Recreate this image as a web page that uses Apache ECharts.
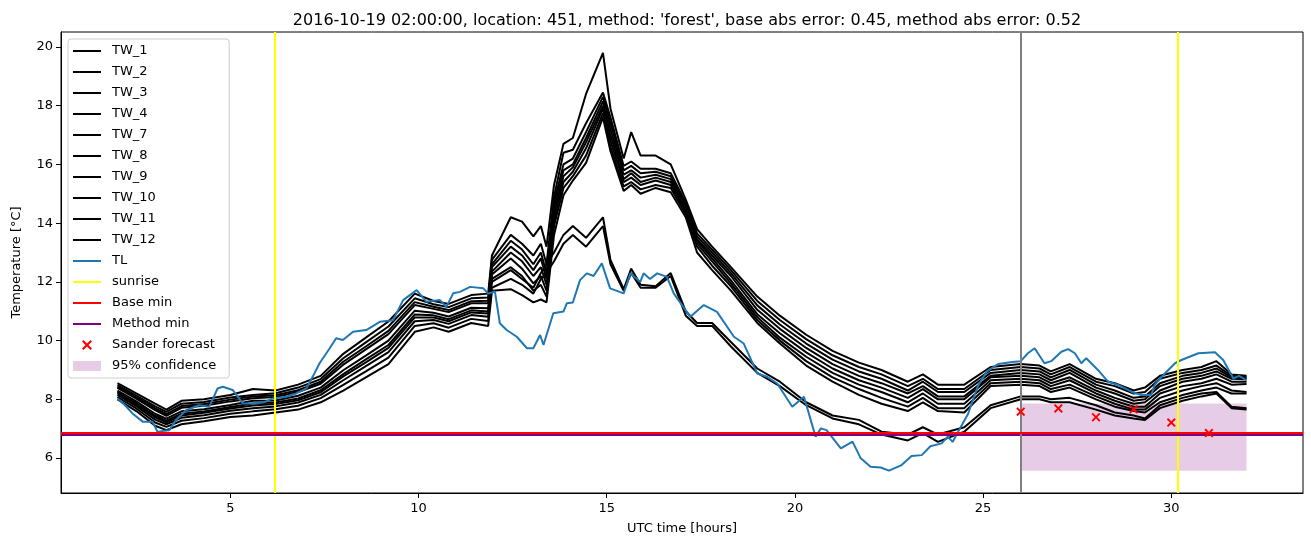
<!DOCTYPE html>
<html>
<head>
<meta charset="utf-8">
<script src="https://cdn.jsdelivr.net/npm/echarts@6/dist/echarts.min.js"></script>
<style>
html,body{margin:0;padding:0;background:#fff;}
#chart{width:1311px;height:547px;}
</style>
</head>
<body>
<div id="chart"></div>
<script>
// ---- data ----
const hours = [2, 2.5, 3, 3.3, 3.7, 4.3, 5.0, 5.6, 6.2, 6.8, 7.4, 8.0, 8.6, 9.2, 9.9, 10.4, 10.8, 11.4, 11.85,
  11.95, 12.45, 12.75, 13.05, 13.25, 13.4,
  13.6, 13.85, 14.1, 14.45, 14.9, 15.1, 15.45, 15.65, 15.9, 16.3, 16.7, 17.1, 17.4, 17.8, 18.3, 19.0, 19.6, 20.3, 21.0, 21.7,
  22.3, 23.0, 23.4, 23.8, 24.5, 25.2, 26.0, 26.5, 26.8, 27.3, 28.0, 28.5, 29.0, 29.3, 29.7, 30.3, 30.8, 31.2, 31.6, 32.0];

const TW_1 = [8.55, 8.2, 7.85, 7.65, 7.95, 8.0, 8.15, 8.35, 8.3, 8.5, 8.8, 9.55, 10.1, 10.65, 11.6, 11.35, 11.25, 11.55, 11.6,
  12.9, 14.2, 14.05, 13.55, 13.9, 13.2,
  15.3, 16.7, 16.9, 18.4, 19.8, 17.9, 16.2, 17.1, 16.3, 16.3, 16.0, 14.8, 13.8, 13.2, 12.5, 11.5, 10.85, 10.2, 9.65, 9.25,
  9.0, 8.6, 8.85, 8.5, 8.5, 9.1, 9.2, 9.15, 8.95, 9.2, 8.7, 8.55, 8.3, 8.4, 8.8, 9.0, 9.1, 9.3, 8.85, 8.8];
const TW_2 = [8.48, 8.13, 7.76, 7.57, 7.85, 7.91, 8.06, 8.15, 8.21, 8.4, 8.69, 9.4, 9.94, 10.48, 11.44, 11.24, 11.14, 11.44, 11.47,
  12.75, 13.6, 13.3, 12.9, 13.3, 12.6,
  14.9, 16.4, 16.5, 17.4, 18.45, 17.6, 15.95, 16.1, 15.85, 15.85, 15.7, 14.7, 13.65, 13.1, 12.4, 11.35, 10.7, 10.05, 9.5, 9.1,
  8.85, 8.45, 8.7, 8.35, 8.35, 9.0, 9.1, 9.05, 8.85, 9.1, 8.6, 8.45, 8.2, 8.25, 8.7, 8.9, 9.0, 9.15, 8.8, 8.77];
const TW_3 = [8.43, 8.07, 7.69, 7.5, 7.77, 7.84, 7.99, 8.1, 8.14, 8.31, 8.6, 9.28, 9.8, 10.33, 11.31, 11.15, 11.04, 11.34, 11.36,
  12.6, 13.4, 13.1, 12.6, 13.0, 12.3,
  14.7, 16.0, 16.2, 17.1, 18.3, 17.4, 15.8, 15.95, 15.7, 15.75, 15.6, 14.6, 13.55, 13.0, 12.3, 11.2, 10.55, 9.9, 9.35, 8.95,
  8.7, 8.3, 8.6, 8.25, 8.25, 8.9, 9.0, 8.95, 8.75, 9.0, 8.5, 8.3, 8.05, 8.1, 8.55, 8.8, 8.9, 9.05, 8.75, 8.72];
const TW_4 = [8.39, 8.02, 7.63, 7.44, 7.71, 7.78, 7.93, 8.04, 8.08, 8.25, 8.53, 9.18, 9.7, 10.22, 11.21, 11.08, 10.97, 11.27, 11.27,
  12.5, 13.2, 12.9, 12.4, 12.8, 12.1,
  14.5, 15.8, 16.0, 16.9, 18.15, 17.2, 15.65, 15.8, 15.55, 15.65, 15.5, 14.5, 13.45, 12.9, 12.2, 11.05, 10.4, 9.75, 9.2, 8.8,
  8.55, 8.2, 8.45, 8.1, 8.1, 8.8, 8.9, 8.85, 8.65, 8.9, 8.4, 8.2, 7.95, 8.0, 8.45, 8.7, 8.8, 8.95, 8.7, 8.68];
const TW_7 = [8.30, 7.93, 7.51, 7.34, 7.59, 7.66, 7.81, 7.95, 7.96, 8.12, 8.4, 8.99, 9.49, 10.0, 11.02, 10.95, 10.82, 11.12, 11.1,
  12.0, 12.4, 12.1, 11.8, 12.3, 12.6,
  13.0, 13.6, 13.9, 13.5, 14.2, 12.75, 11.75, 12.45, 11.9, 11.85, 12.3, 11.0, 10.6, 10.6, 9.95, 9.05, 8.6, 7.9, 7.45, 7.3,
  6.9, 6.8, 7.05, 6.8, 7.05, 7.8, 8.1, 8.1, 8.0, 8.05, 7.8, 7.55, 7.45, 7.35, 7.8, 8.05, 8.2, 8.25, 7.75, 7.7];
const TW_8 = [8.25, 7.87, 7.44, 7.27, 7.51, 7.59, 7.74, 7.86, 7.89, 8.03, 8.31, 8.86, 9.36, 9.85, 10.89, 10.86, 10.73, 11.03, 10.99,
  12.35, 13.0, 12.7, 12.2, 12.5, 11.9,
  14.3, 15.6, 15.9, 16.75, 18.0, 17.0, 15.5, 15.7, 15.4, 15.55, 15.4, 14.45, 13.4, 12.8, 12.05, 10.9, 10.25, 9.6, 9.05, 8.65,
  8.4, 8.05, 8.35, 8.0, 8.0, 8.75, 8.8, 8.75, 8.55, 8.75, 8.3, 8.05, 7.85, 7.9, 8.3, 8.6, 8.7, 8.85, 8.6, 8.6];
const TW_9 = [8.21, 7.83, 7.39, 7.22, 7.45, 7.54, 7.69, 7.79, 7.84, 7.97, 8.24, 8.78, 9.26, 9.75, 10.79, 10.79, 10.66, 10.96, 10.92,
  12.25, 12.8, 12.45, 11.95, 12.2, 11.7,
  14.1, 15.4, 15.75, 16.55, 17.9, 16.8, 15.4, 15.55, 15.3, 15.45, 15.3, 14.4, 13.3, 12.7, 11.95, 10.8, 10.1, 9.45, 8.9, 8.5,
  8.25, 7.9, 8.2, 7.85, 7.85, 8.65, 8.7, 8.65, 8.45, 8.65, 8.2, 7.95, 7.75, 7.75, 8.2, 8.45, 8.55, 8.7, 8.5, 8.52];
const TW_10 = [8.15, 7.77, 7.31, 7.15, 7.37, 7.46, 7.61, 7.7, 7.76, 7.89, 8.15, 8.65, 9.13, 9.61, 10.66, 10.7, 10.57, 10.87, 10.81,
  12.1, 12.5, 12.2, 11.7, 11.9, 11.5,
  13.9, 15.2, 15.6, 16.3, 17.75, 16.6, 15.25, 15.4, 15.15, 15.3, 15.2, 14.3, 13.2, 12.55, 11.85, 10.7, 10.0, 9.3, 8.75, 8.35,
  8.05, 7.75, 8.05, 7.7, 7.7, 8.55, 8.6, 8.55, 8.35, 8.5, 8.1, 7.85, 7.65, 7.65, 8.05, 8.3, 8.45, 8.55, 8.3, 8.25];
const TW_11 = [8.08, 7.69, 7.21, 7.06, 7.27, 7.36, 7.51, 7.59, 7.66, 7.78, 8.04, 8.49, 8.95, 9.42, 10.5, 10.59, 10.44, 10.74, 10.67,
  11.8, 12.1, 11.9, 11.6, 12.1, 12.3,
  12.7, 13.3, 13.6, 13.2, 13.9, 12.6, 11.7, 12.3, 11.8, 11.8, 12.2, 10.85, 10.5, 10.5, 9.8, 8.9, 8.45, 7.8, 7.35, 7.15,
  6.8, 6.6, 6.85, 6.55, 6.9, 7.7, 8.0, 8.0, 7.9, 7.9, 7.65, 7.45, 7.35, 7.3, 7.7, 7.95, 8.1, 8.2, 7.7, 7.65];
const TW_12 = [8.0, 7.6, 7.1, 6.95, 7.15, 7.25, 7.4, 7.45, 7.55, 7.65, 7.9, 8.3, 8.75, 9.2, 10.3, 10.45, 10.3, 10.6, 10.5,
  11.7, 11.75, 11.55, 11.3, 11.4, 11.3,
  13.6, 14.95, 15.45, 16.05, 17.6, 16.45, 15.1, 15.3, 15.0, 15.2, 15.05, 14.2, 13.0, 12.4, 11.7, 10.6, 9.9, 9.15, 8.6, 8.15,
  7.85, 7.6, 7.9, 7.6, 7.55, 8.45, 8.5, 8.45, 8.25, 8.4, 8.0, 7.75, 7.6, 7.55, 7.9, 8.15, 8.3, 8.4, 8.2, 8.2];

const tlHours = [2.0, 2.2, 2.4, 2.67, 2.93, 3.06, 3.38, 3.55, 3.82, 4.17, 4.44, 4.66, 4.8, 5.06, 5.33, 5.6, 5.9, 6.13, 6.48, 6.75,
  7.02, 7.2, 7.37, 7.64, 7.81, 7.99, 8.26, 8.61, 8.97, 9.32, 9.59, 9.95, 10.21, 10.57, 10.74, 10.92, 11.1, 11.37, 11.72, 11.85,
  12.03, 12.16, 12.34, 12.61, 12.88, 13.05, 13.23, 13.32, 13.58, 13.85, 13.94, 14.1, 14.29, 14.47, 14.65, 14.87, 15.09, 15.45, 15.63, 15.89,
  15.98, 16.15, 16.34, 16.6, 16.78, 17.22, 17.58, 17.93, 18.38, 18.64, 19.0, 19.26, 19.53, 19.93, 20.24, 20.55, 20.69, 20.84, 21.22, 21.53,
  21.75, 22.01, 22.28, 22.5, 22.82, 23.1, 23.37, 23.6, 23.9, 24.06, 24.19, 24.41, 24.6, 24.86, 25.1, 25.4, 25.83, 26.0, 26.19, 26.37,
  26.63, 26.81, 27.08, 27.26, 27.44, 27.61, 27.74, 28.05, 28.32, 28.59, 28.94, 29.2, 29.47, 29.56, 29.83, 30.1, 30.27, 30.72, 31.16, 31.38,
  31.65, 31.8, 32.0];
const tlTemps = [8.03, 7.8, 7.52, 7.24, 7.24, 6.9, 6.95, 7.29, 7.63, 7.8, 7.75, 8.37, 8.43, 8.32, 7.86, 7.86, 7.9, 8.03, 8.09, 8.2,
  8.37, 8.8, 9.23, 9.74, 10.08, 10.02, 10.3, 10.36, 10.64, 10.69, 11.38, 11.72, 11.32, 11.38, 11.15, 11.61, 11.66, 11.83, 11.78, 11.6,
  11.67, 10.59, 10.36, 10.13, 9.74, 9.74, 10.19, 9.85, 10.93, 10.99, 11.27, 11.3, 12.06, 12.29, 12.2, 12.63, 11.78, 11.61, 12.29, 12.0,
  12.29, 12.1, 12.29, 12.17, 11.61, 10.81, 11.21, 10.98, 10.13, 9.9, 8.88, 8.77, 8.54, 7.75, 8.09, 6.73, 7.01, 6.95, 6.33, 6.56,
  5.99, 5.7, 5.68, 5.57, 5.75, 6.07, 6.1, 6.4, 6.5, 6.73, 6.55, 7.07, 7.5, 8.45, 8.95, 9.2, 9.28, 9.3, 9.57, 9.74,
  9.23, 9.3, 9.62, 9.71, 9.57, 9.23, 9.4, 9.0, 8.6, 8.49, 8.26, 8.15, 8.15, 8.49, 8.88, 9.23, 9.34, 9.57, 9.6, 9.34,
  8.71, 8.8, 8.65];

const sunriseHours = [6.17, 30.18];
const nowHour = 26;
const baseMin = 6.85;
const methodMin = 6.80;
const sanderHours = [26, 27, 28, 29, 30, 31];
const sanderTemps = [7.58, 7.69, 7.39, 7.66, 7.21, 6.85];
const confidenceHours = [26, 32];
const confidenceTemps = [5.57, 7.86];

const xTicks = [5, 10, 15, 20, 25, 30];
const yTicks = [6, 8, 10, 12, 14, 16, 18, 20];

const twNames = ['TW_1','TW_2','TW_3','TW_4','TW_7','TW_8','TW_9','TW_10','TW_11','TW_12'];
const twValues = [TW_1, TW_2, TW_3, TW_4, TW_7, TW_8, TW_9, TW_10, TW_11, TW_12];

// ---- chart ----
const FONT = 'DejaVu Sans';
const xShape = 'path://M1.5,0 L5,3.5 L8.5,0 L10,1.5 L6.5,5 L10,8.5 L8.5,10 L5,6.5 L1.5,10 L0,8.5 L3.5,5 L0,1.5 Z';
const xLegendShape = 'path://M-9,0 M19,10 M1.5,0 L5,3.5 L8.5,0 L10,1.5 L6.5,5 L10,8.5 L8.5,10 L5,6.5 L1.5,10 L0,8.5 L3.5,5 L0,1.5 Z';
const lineLegendShape = 'path://M0,0 M28,10 M0,4 L28,4 L28,6 L0,6 Z';

const chart = echarts.init(document.getElementById('chart'), null, {renderer: 'canvas'});

const series = [];
twNames.forEach((n, k) => {
  series.push({
    name: n, type: 'line', symbol: 'none', showSymbol: false, z: 2,
    color: '#000000',
    lineStyle: {color: '#000000', width: 2},
    data: hours.map((h, i) => [h, twValues[k][i]])
  });
});
series.push({
  name: 'TL', type: 'line', symbol: 'none', showSymbol: false, z: 3,
  color: '#1f77b4', lineStyle: {color: '#1f77b4', width: 2},
  data: tlHours.map((h, i) => [h, tlTemps[i]])
});
series.push({
  name: 'sunrise', type: 'line', symbol: 'none', data: [], z: 4,
  color: '#ffff00', lineStyle: {color: '#ffff00', width: 2},
  markLine: {silent: true, symbol: ['none','none'], label: {show: false},
    lineStyle: {color: '#ffff00', width: 2, type: 'solid'},
    data: sunriseHours.map(h => ({xAxis: h}))}
});
series.push({
  name: 'Method min', type: 'line', symbol: 'none', data: [], z: 5,
  color: '#800080', lineStyle: {color: '#800080', width: 2},
  markLine: {silent: true, symbol: ['none','none'], label: {show: false}, z: 5,
    lineStyle: {color: '#800080', width: 2, type: 'solid'},
    data: [{yAxis: methodMin}]}
});
series.push({
  name: 'Base min', type: 'line', symbol: 'none', data: [], z: 6,
  color: '#ff0000', lineStyle: {color: '#ff0000', width: 2},
  markLine: {silent: true, symbol: ['none','none'], label: {show: false}, z: 6,
    lineStyle: {color: '#ff0000', width: 2, type: 'solid'},
    data: [{yAxis: baseMin}]}
});
series.push({
  name: 'Sander forecast', type: 'scatter', symbol: xShape, symbolSize: 9, z: 8,
  color: '#ff0000', itemStyle: {color: '#ff0000', opacity: 1},
  data: sanderHours.map((h, i) => [h, sanderTemps[i]])
});
series.push({
  name: '95% confidence', type: 'line', symbol: 'none', data: [], z: 1,
  color: 'rgba(128,0,128,0.2)',
  markArea: {silent: true, itemStyle: {color: 'rgba(128,0,128,0.2)'},
    data: [[{xAxis: confidenceHours[0], yAxis: confidenceTemps[0]}, {xAxis: confidenceHours[1], yAxis: confidenceTemps[1]}]]}
});
series.push({
  name: 'now', type: 'line', symbol: 'none', data: [], z: 4,
  color: '#808080',
  markLine: {silent: true, symbol: ['none','none'], label: {show: false},
    lineStyle: {color: '#808080', width: 2, type: 'solid'},
    data: [{xAxis: nowHour}]}
});

const lineColors = {'TL': '#1f77b4', 'sunrise': '#ffff00', 'Base min': '#ff0000', 'Method min': '#800080'};
const legendData = twNames.map(n => ({name: n, icon: lineLegendShape, itemStyle: {color: '#000000'}}))
  .concat(['TL', 'sunrise', 'Base min', 'Method min'].map(n => ({name: n, icon: lineLegendShape, itemStyle: {color: lineColors[n]}})))
  .concat([
    {name: 'Sander forecast', icon: xLegendShape, itemStyle: {color: '#ff0000'}},
    {name: '95% confidence', icon: 'rect', itemStyle: {color: 'rgba(128,0,128,0.2)'}}
  ]);

chart.setOption({
  animation: false,
  backgroundColor: '#ffffff',
  textStyle: {fontFamily: FONT},
  title: {
    text: "2016-10-19 02:00:00, location: 451, method: 'forest', base abs error: 0.45, method abs error: 0.52",
    left: 682, top: 8, textAlign: 'center',
    textStyle: {fontFamily: FONT, fontSize: 16, fontWeight: 'normal', color: '#000'}
  },
  grid: {left: 61, right: 8, top: 32, bottom: 54, show: true, borderColor: '#000', borderWidth: 1,
    backgroundColor: 'transparent', containLabel: false, outerBoundsMode: 'none'},
  legend: {
    orient: 'vertical', left: 68, top: 39,
    padding: [5, 13, 5, 5], itemGap: 7, itemWidth: 28, itemHeight: 10,
    backgroundColor: 'rgba(255,255,255,0.8)', borderColor: '#cccccc', borderWidth: 1, borderRadius: 3,
    textStyle: {fontFamily: FONT, fontSize: 13, color: '#000', lineHeight: 14, padding: [0, 0, 0, 6]},
    selectedMode: false,
    data: legendData
  },
  xAxis: {
    type: 'value', min: 0.5, max: 33.5,
    name: 'UTC time [hours]', nameLocation: 'middle', nameGap: 29,
    nameTextStyle: {fontFamily: FONT, fontSize: 13, color: '#000'},
    axisLine: {show: true, onZero: false, lineStyle: {color: '#000', width: 1}},
    axisTick: {show: true, inside: false, length: 5, lineStyle: {color: '#000'}, customValues: xTicks},
    axisLabel: {show: true, margin: 9, fontFamily: FONT, fontSize: 13, color: '#000', customValues: xTicks},
    splitLine: {show: false}
  },
  yAxis: {
    type: 'value', min: 4.81, max: 20.51,
    name: 'Temperature [°C]', nameLocation: 'middle', nameGap: 38,
    nameTextStyle: {fontFamily: FONT, fontSize: 13, color: '#000'},
    axisLine: {show: true, onZero: false, lineStyle: {color: '#000', width: 1}},
    axisTick: {show: true, inside: false, length: 5, lineStyle: {color: '#000'}, customValues: yTicks},
    axisLabel: {show: true, margin: 8, fontFamily: FONT, fontSize: 13, color: '#000', customValues: yTicks},
    splitLine: {show: false}
  },
  series: series
});
</script>
</body>
</html>
